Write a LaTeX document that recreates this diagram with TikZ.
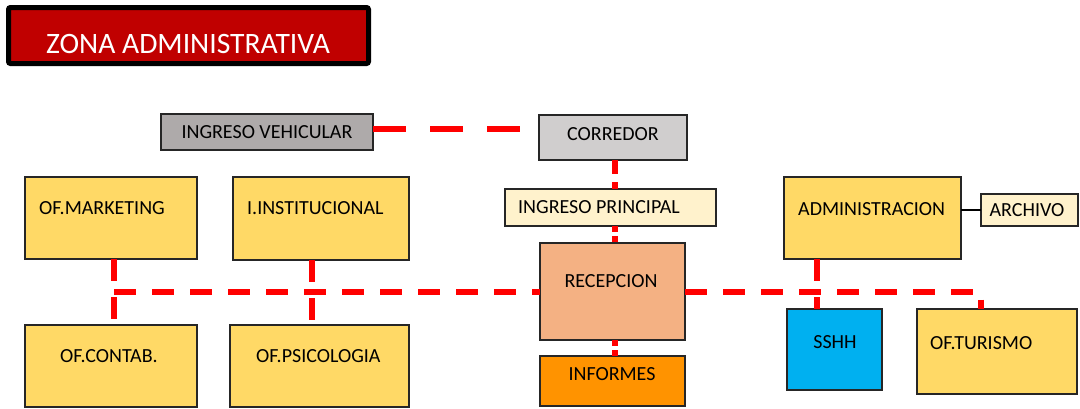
\documentclass[tikz,border=0pt]{standalone}
\usepackage{fontspec}
\setmainfont{Carlito}
\definecolor{yel}{HTML}{FFD966}
\definecolor{gdark}{HTML}{AEAAAA}
\definecolor{glight}{HTML}{D0CECE}
\definecolor{cream}{HTML}{FFF2CC}
\definecolor{salmon}{HTML}{F4B183}
\definecolor{orng}{HTML}{FF9300}
\definecolor{sky}{HTML}{00B0F0}
\definecolor{titlered}{HTML}{C00000}
\definecolor{edge}{HTML}{262626}
\definecolor{dashred}{HTML}{FF0000}
\tikzset{
  box/.style={draw=edge, line width=1.2pt, rectangle, inner sep=0pt, outer sep=0pt},
  lbl/.style={inner sep=0pt, font=\fontsize{20}{24}\selectfont, text=black},
  rdash/.style={draw=dashred, line width=6pt, dash pattern=on 22pt off 16pt},
  rdashlong/.style={draw=dashred, line width=6pt, dash pattern=on 33pt off 24pt},
}
\begin{document}
\begin{tikzpicture}[x=1pt,y=-1pt]
\useasboundingbox (0,0) rectangle (1080,408);

% title
\node[draw=black, line width=5pt, fill=titlered, rounded corners=2pt, minimum width=360pt, minimum height=56pt, inner sep=0pt] (title) at (188.5,35.5) {};
\node[inner sep=0pt, anchor=base, text=white, font=\fontsize{29.6}{34}\selectfont] (titletxt) at (188,53) {ZONA ADMINISTRATIVA};

\coordinate (turtop) at (981,309);
\coordinate (turcorner) at (981,291.5);

% boxes
\node[box, fill=gdark, minimum width=212pt, minimum height=36pt] (iv) at (267,132) {};
\node[box, fill=glight, minimum width=148pt, minimum height=45pt] (cor) at (613,137.5) {};
\node[box, fill=cream, minimum width=211pt, minimum height=37pt] (ip) at (610.5,207.5) {};
\node[box, fill=yel, minimum width=172pt, minimum height=82pt] (mk) at (111,218) {};
\node[box, fill=yel, minimum width=176pt, minimum height=83pt] (inst) at (321,218.5) {};
\node[box, fill=yel, minimum width=172pt, minimum height=82pt] (ct) at (111,366) {};
\node[box, fill=yel, minimum width=179pt, minimum height=82pt] (ps) at (319.5,366) {};
\node[box, fill=salmon, minimum width=145pt, minimum height=97pt] (rec) at (612.5,291.5) {};
\node[box, fill=orng, minimum width=145pt, minimum height=50pt] (inf) at (612.5,381) {};
\node[box, fill=yel, minimum width=177pt, minimum height=82pt] (adm) at (872.5,218) {};
\node[box, fill=cream, minimum width=97pt, minimum height=32pt] (arc) at (1029.5,210) {};
\node[box, fill=sky, minimum width=95pt, minimum height=81pt] (ss) at (834.5,349.5) {};
\node[box, fill=yel, minimum width=160pt, minimum height=85pt] (tur) at (997,351.5) {};

% dashed connectors
\path[rdashlong] ([yshift=3pt]iv.east) -- ([yshift=3pt]iv.east -| cor.west);
\path[rdash, dash pattern=on 14pt off 8pt] ([xshift=2pt]cor.south) -- ([xshift=2pt]cor.south |- ip.north);
\path[rdash, dash pattern=on 6pt off 4pt] ([xshift=2pt]cor.south |- ip.south) -- ([xshift=2pt]cor.south |- rec.north);
\path[rdash, dash pattern=on 6pt off 4pt] ([xshift=2pt]cor.south |- rec.south) -- ([xshift=2pt]cor.south |- inf.north);
\path[rdash] ([xshift=3pt]mk.south) -- ([xshift=3pt]mk.south |- ct.north);
\path[rdash] ([xshift=3pt]mk.south |- rec.west) -- (rec.west);
\path[rdash] ([xshift=-9pt]inst.south) -- ([xshift=-9pt]inst.south |- ps.north);
\path[rdash] (rec.east) -- (turcorner) -- (turtop);
\path[rdash] ([xshift=-17.5pt]ss.north |- adm.south) -- ([xshift=-17.5pt]ss.north);
\draw[black, line width=1.5pt] (arc.west -| adm.east) -- (arc.west);

% labels
\node[lbl, anchor=base] (ivt) at (267,138) {INGRESO VEHICULAR};
\node[lbl, anchor=base] (cort) at (613,140.3) {CORREDOR};
\node[lbl, anchor=base west] (ipt) at (518,213.3) {INGRESO PRINCIPAL};
\node[lbl, anchor=base west] (mkt) at (39,214.3) {OF.MARKETING};
\node[lbl, anchor=base west] (instt) at (247,214.3) {I.INSTITUCIONAL};
\node[lbl, anchor=base west] (ctt) at (60,362.3) {OF.CONTAB.};
\node[lbl, anchor=base west] (pst) at (256,362.3) {OF.PSICOLOGIA};
\node[lbl, anchor=base] (rect) at (611,287.3) {RECEPCION};
\node[lbl, anchor=base] (inft) at (612,380.3) {INFORMES};
\node[lbl, anchor=base west] (admt) at (798,215.3) {ADMINISTRACION};
\node[lbl, anchor=base] (arct) at (1027,216.3) {ARCHIVO};
\node[lbl, anchor=base] (sst) at (835,348.3) {SSHH};
\node[lbl, anchor=base west] (turt) at (930,349.3) {OF.TURISMO};
\end{tikzpicture}
\end{document}
